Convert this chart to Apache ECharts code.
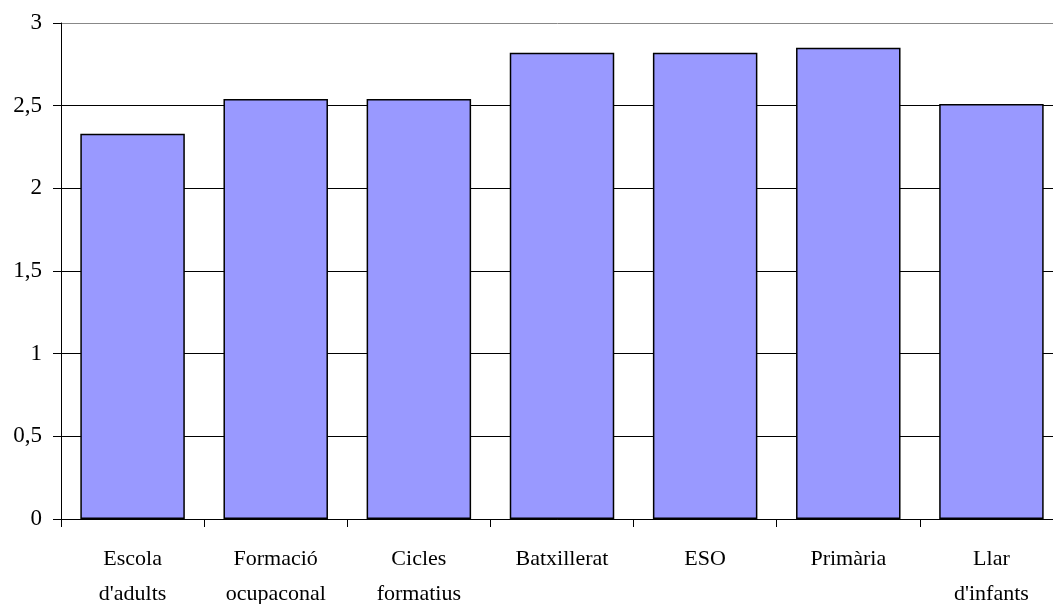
<!DOCTYPE html>
<html>
<head>
<meta charset="utf-8">
<script src="https://cdn.jsdelivr.net/npm/echarts@6/dist/echarts.min.js"></script>
<style>html,body{margin:0;padding:0;background:#fff;}#c{width:1053px;height:604px;}</style>
</head>
<body>
<div id="c"></div>
<script>
const categories = ["Escola\nd'adults", "Formació\nocupaconal", "Cicles\nformatius", "Batxillerat", "ESO", "Primària", "Llar\nd'infants"];
const values = [2.33, 2.54, 2.54, 2.82, 2.82, 2.85, 2.51];
const yTickLabels = {0: '0', 0.5: '0,5', 1: '1', 1.5: '1,5', 2: '2', 2.5: '2,5', 3: '3'};

const chart = echarts.init(document.getElementById('c'));
chart.setOption({
  animation: false,
  grid: {left: 61, top: 23, bottom: 85, width: 1002, containLabel: false, outerBoundsMode: 'none'},
  xAxis: {
    type: 'category',
    data: categories,
    axisLine: {lineStyle: {color: '#000', width: 1}},
    axisTick: {show: true, length: 8, lineStyle: {color: '#000'}},
    axisLabel: {
      color: '#000', fontFamily: 'Liberation Serif', fontSize: 22,
      margin: 23, lineHeight: 35, interval: 0
    }
  },
  yAxis: {
    type: 'value', min: 0, max: 3, interval: 0.5,
    axisLine: {show: true, lineStyle: {color: '#000', width: 1}},
    axisTick: {show: true, length: 8, lineStyle: {color: '#000'}},
    axisLabel: {
      color: '#000', fontFamily: 'Liberation Serif', fontSize: 23, margin: 19,
      formatter: v => yTickLabels[v] !== undefined ? yTickLabels[v] : String(v).replace('.', ',')
    },
    splitLine: {show: true, lineStyle: {color: ['#000','#000','#000','#000','#000','#000','#888'], width: 1}}
  },
  series: [{
    type: 'bar',
    data: values,
    barCategoryGap: '27%',
    itemStyle: {color: '#9999FF', borderColor: '#000', borderWidth: 1.5}
  }]
});
</script>
</body>
</html>
